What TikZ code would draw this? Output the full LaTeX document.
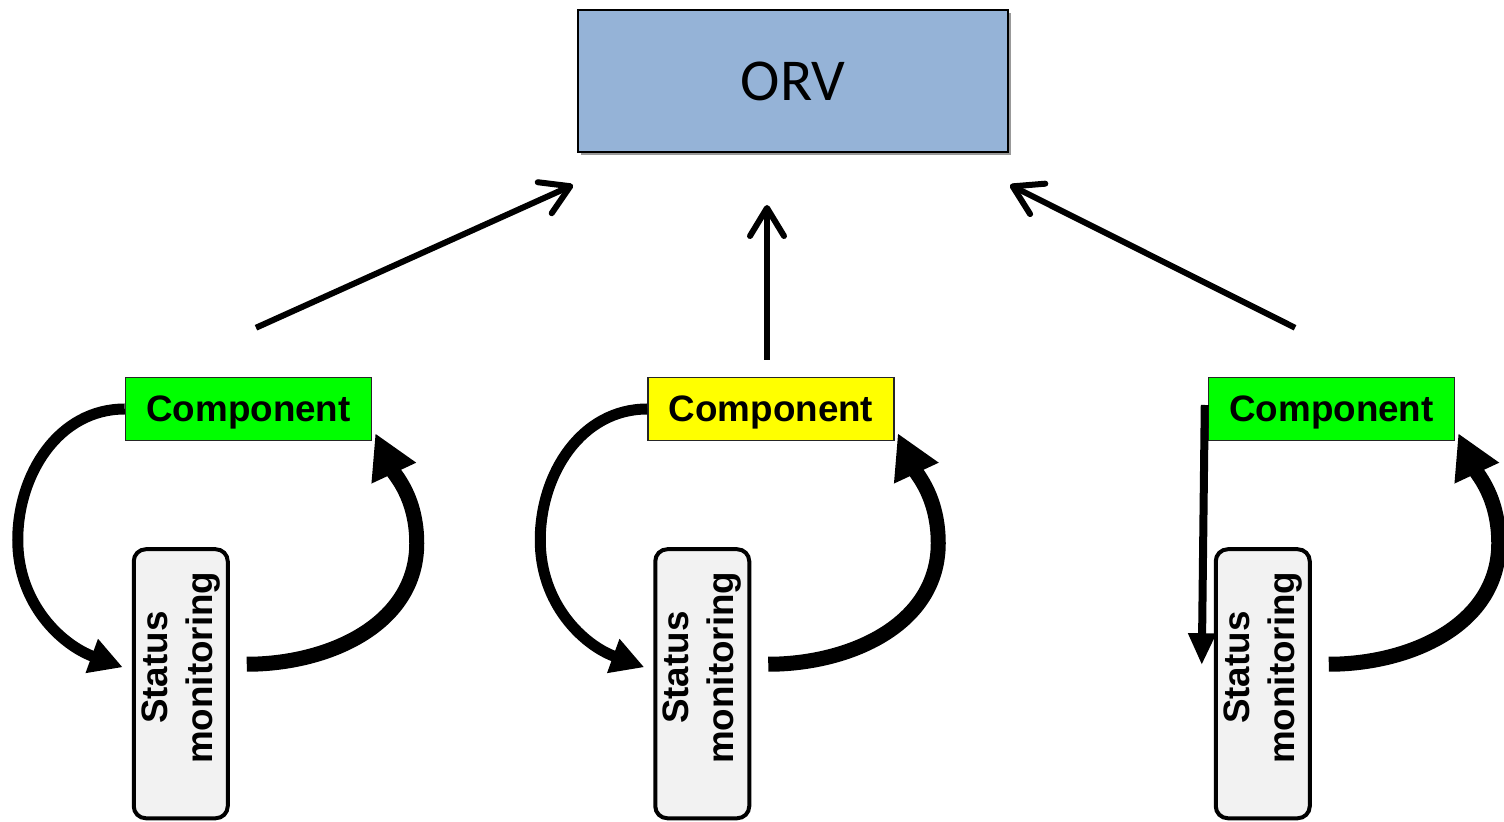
\documentclass[tikz,border=0pt]{standalone}
\usepackage{fontspec}
\setmainfont{Liberation Sans}
\newfontfamily\orvfont{Carlito}
\usetikzlibrary{positioning, arrows.meta, shadows}
\definecolor{orvblue}{HTML}{95B3D7}
\definecolor{compgreen}{HTML}{00FF00}
\definecolor{compyellow}{HTML}{FFFF00}
\definecolor{statusgray}{HTML}{F2F2F2}
\tikzset{
    x=0.5pt, y=0.5pt, % one unit is one pixel of the sketch
    orv/.style={draw, line width=1pt, fill=orvblue, minimum width=215pt, minimum height=71pt,
        font=\orvfont\fontsize{29.7}{34}\selectfont,
        drop shadow={shadow xshift=1.5pt, shadow yshift=-1.5pt, fill=gray!80, opacity=1}},
    component/.style={draw=black!85, line width=0.75pt, minimum width=123pt, minimum height=31.5pt,
        text height=16.4pt, font=\bfseries\fontsize{18.4}{22}\selectfont}, % the monitored parts
    status/.style={draw, line width=2pt, rounded corners=6pt, fill=statusgray, inner sep=0pt,
        minimum width=47pt, minimum height=134.5pt, text depth=16pt,
        font=\bfseries\fontsize{18.4}{22.5}\selectfont},
    report/.style={line width=3pt, -{Straight Barb[length=14pt, width=17pt, round]}}, % up to the ORV
    watch/.style={line width=5.5pt, -{Triangle[length=16.5pt, width=17pt]}},
    feedback/.style={line width=7.5pt, -{Triangle[length=22pt, width=23pt]}},
}
\newcommand{\statustext}{\rotatebox{90}{\begin{tabular}{@{}c@{}}Status\\monitoring\end{tabular}}}

\begin{document}
\begin{tikzpicture}
    \useasboundingbox (0,0) rectangle (1504,-822);

    \node[orv] (orv) at (793,-81) {ORV};

    \node[component, fill=compgreen] (cl) at (248.5,-409) {Component};
    \node[component, fill=compyellow] (cm) at (771,-409) {Component};
    \node[component, fill=compgreen] (cr) at (1331.5,-409) {Component};

    \node[status, below right=53pt and 3.5pt of cl.south west] (sl) {\statustext};
    \node[status, below right=53pt and 3pt of cm.south west] (sm) {\statustext};
    \node[status, below right=53pt and 3pt of cr.south west] (sr) {\statustext};

    % reports to the ORV
    \draw[report] ([shift={(7.5,49)}]cl.north) -- ([shift={(-4,-32)}]orv.south west);
    \draw[report] ([shift={(-4,17)}]cm.north) -- ([shift={(-26,-52)}]orv.south);
    \draw[report] ([shift={(-36.5,49)}]cr.north) -- ([shift={(1,-32)}]orv.south east);

    % monitoring loops
    \draw[watch] (cl.west) to[out=180, in=90] +(-107,-131)
        to[out=-90, in=160] ([shift={(-9,16.5)}]sl.west);
    \draw[feedback] ([shift={(17,19.5)}]sl.east) to[out=0, in=-90] +(170,121)
        to[out=90, in=-65] ([shift={(3,8)}]cl.south east);

    \draw[watch] (cm.west) to[out=180, in=90] +(-107,-131)
        to[out=-90, in=160] ([shift={(-9,16.5)}]sm.west);
    \draw[feedback] ([shift={(17,19.5)}]sm.east) to[out=0, in=-90] +(170,121)
        to[out=90, in=-65] ([shift={(3,8)}]cm.south east);

    \draw[line width=4pt, -{Triangle[length=16pt, width=13pt]}] ([shift={(-3,4)}]cr.west)
        -- ([shift={(-12,18.5)}]sr.west);
    \draw[feedback] ([shift={(17,19.5)}]sr.east) to[out=0, in=-90] +(170,121)
        to[out=90, in=-65] ([shift={(3,8)}]cr.south east);
\end{tikzpicture}
\end{document}
